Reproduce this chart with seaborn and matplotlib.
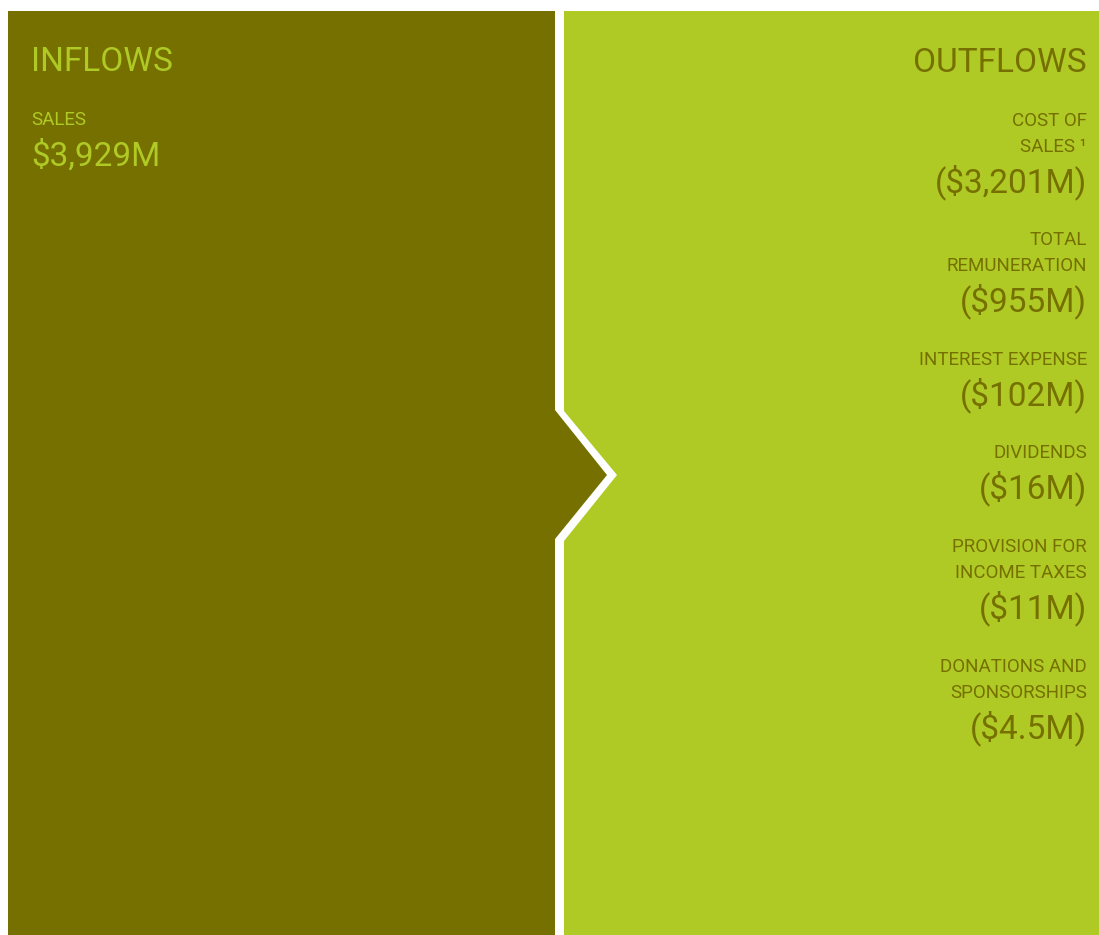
import matplotlib
matplotlib.use("Agg")
import matplotlib.pyplot as plt
import seaborn as sns

# ---- data ----
inflow_title = "INFLOWS"
outflow_title = "OUTFLOWS"
inflow_labels = ["SALES"]
inflow_values = [3929]
outflow_labels = ["COST OF\nSALES \u00b9", "TOTAL\nREMUNERATION", "INTEREST EXPENSE",
                  "DIVIDENDS", "PROVISION FOR\nINCOME TAXES", "DONATIONS AND\nSPONSORSHIPS"]
outflow_values = [3201, 955, 102, 16, 11, 4.5]

# ---- style ----
DARK = "#757000"
LIME = "#b0ca25"
W, H = 1099, 935
sns.set_theme(style="white")
plt.rcParams["font.family"] = ["Roboto", "DejaVu Sans"]

def fmt(v, neg=False):
    s = f"{v:,.0f}" if float(v).is_integer() else f"{v:,.1f}"
    s = f"${s}M"
    return f"({s})" if neg else s

fig = plt.figure(figsize=(W / 100, H / 100), dpi=100)
ax = fig.add_axes([0, 0, 1, 1])
ax.set_xlim(0, W)
ax.set_ylim(H, 0)
ax.axis("off")

# panels (pixel-space geometry)
left_poly = [(8, 11), (555, 11), (555, 410), (607, 475), (555, 539), (555, 935), (8, 935)]
right_poly = [(564, 11), (1099, 11), (1099, 935), (564, 935), (564, 541), (617, 475), (564, 411)]
ax.fill(*zip(*left_poly), color=DARK, lw=0)
ax.fill(*zip(*right_poly), color=LIME, lw=0)

TITLE_FS = 24
LABEL_FS = 13.5
VALUE_FS = 24
LINE = 26  # label line spacing in px
FW = "normal"

# left side
ax.text(31, 71, inflow_title, color=LIME, fontsize=TITLE_FS, ha="left", va="baseline", fontweight=FW)
y = 125
for lab, val in zip(inflow_labels, inflow_values):
    ax.text(31, y, lab, color=LIME, fontsize=LABEL_FS, ha="left", va="baseline", fontweight=FW)
    ax.text(31, y + 41, fmt(val), color=LIME, fontsize=VALUE_FS, ha="left", va="baseline", fontweight=FW)

# right side
XR = 1087
ax.text(XR, 72, outflow_title, color=DARK, fontsize=TITLE_FS, ha="right", va="baseline", fontweight=FW)
label_baselines = [126, 245, 365, 458, 552, 672]
for lab, val, yb in zip(outflow_labels, outflow_values, label_baselines):
    lines = lab.split("\n")
    for i, ln in enumerate(lines):
        ax.text(XR, yb + i * LINE, ln, color=DARK, fontsize=LABEL_FS, ha="right", va="baseline", fontweight=FW)
    yv = yb + (len(lines) - 1) * LINE + 40
    ax.text(XR, yv, fmt(val, neg=True), color=DARK, fontsize=VALUE_FS, ha="right", va="baseline", fontweight=FW)

fig.savefig("out.png", dpi=100, facecolor="white")
